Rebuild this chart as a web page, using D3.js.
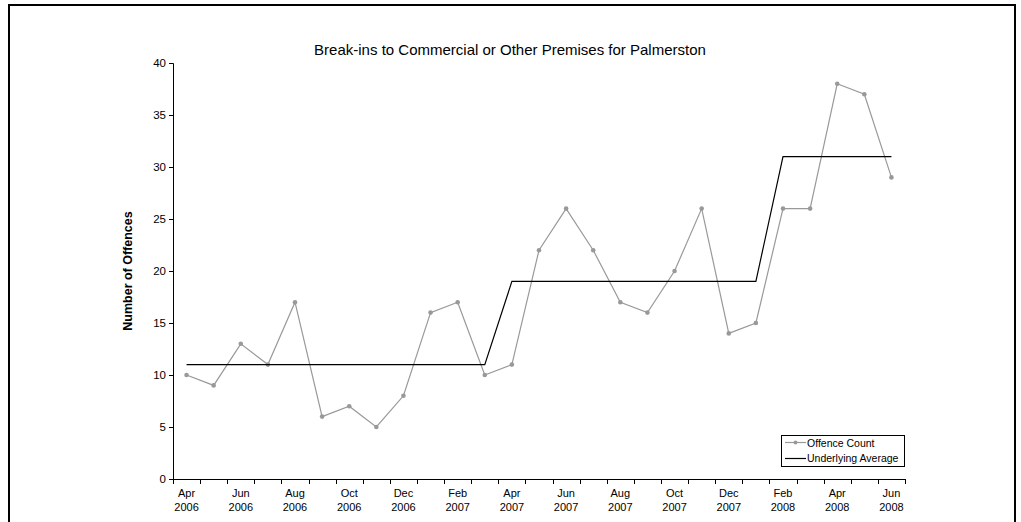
<!DOCTYPE html>
<html><head><meta charset="utf-8">
<script src="https://cdn.jsdelivr.net/npm/d3@7/dist/d3.min.js"></script>
<style>body{margin:0;background:#fff;}svg{display:block;font-family:Arial,"Liberation Sans",sans-serif;}</style>
</head><body>
<svg id="c" width="1021" height="522"></svg>
<script>
const months = ["Apr 2006","May 2006","Jun 2006","Jul 2006","Aug 2006","Sep 2006","Oct 2006","Nov 2006","Dec 2006",
  "Jan 2007","Feb 2007","Mar 2007","Apr 2007","May 2007","Jun 2007","Jul 2007","Aug 2007","Sep 2007","Oct 2007","Nov 2007","Dec 2007",
  "Jan 2008","Feb 2008","Mar 2008","Apr 2008","May 2008","Jun 2008"];
const offenceCount = [10,9,13,11,17,6,7,5,8,16,17,10,11,22,26,22,17,16,20,26,14,15,26,26,38,37,29];
const underlyingAverage = [11,11,11,11,11,11,11,11,11,11,11,11,19,19,19,19,19,19,19,19,19,19,31,31,31,31,31];
const yTicks = [0,5,10,15,20,25,30,35,40];
const title = "Break-ins to Commercial or Other Premises for Palmerston";
const yLabel = "Number of Offences";

const svg = d3.select("#c");
svg.append("rect").attr("x",9).attr("y",5).attr("width",1006).attr("height",530)
  .attr("fill","none").attr("stroke","#000").attr("stroke-width",2);

const x = d3.scaleBand().domain(months).range([173,905]);
const y = d3.scaleLinear().domain([0,40]).range([479,63]);

svg.append("text").attr("x",510).attr("y",55).attr("text-anchor","middle")
  .attr("font-size",15).text(title);
svg.append("text").attr("transform","translate(132,271) rotate(-90)").attr("text-anchor","middle")
  .attr("font-size",12.5).attr("font-weight","bold").text(yLabel);

// Y axis
const yAxis = svg.append("g").attr("transform","translate(173,0)")
  .call(d3.axisLeft(y).tickValues(yTicks).tickSize(4).tickPadding(3));
yAxis.select(".domain").attr("stroke","#000");
yAxis.selectAll("text").attr("font-size",11.5).attr("fill","#000").attr("font-family","Arial,'Liberation Sans',sans-serif");

// X axis: ticks at band boundaries
const xg = svg.append("g");
xg.append("line").attr("x1",173).attr("x2",905).attr("y1",479.5).attr("y2",479.5).attr("stroke","#000");
const bounds = months.map(m => x(m)).concat([x.range()[1]]);
xg.selectAll("line.t").data(bounds).join("line").attr("class","t")
  .attr("x1",d=>Math.round(d)+0.5).attr("x2",d=>Math.round(d)+0.5).attr("y1",479).attr("y2",484).attr("stroke","#000");
const labelled = months.filter((m,i)=>i%2===0);
const lab = xg.selectAll("text.l").data(labelled).join("text").attr("class","l")
  .attr("text-anchor","middle").attr("font-size",11)
  .attr("x",d=>x(d)+x.bandwidth()/2);
lab.append("tspan").attr("x",d=>x(d)+x.bandwidth()/2).attr("y",497).text(d=>d.split(" ")[0]);
lab.append("tspan").attr("x",d=>x(d)+x.bandwidth()/2).attr("y",511).text(d=>d.split(" ")[1]);

const cx = (d,i)=>x(months[i])+x.bandwidth()/2;
const line = d3.line().x((d,i)=>cx(d,i)).y(d=>y(d));

svg.append("path").datum(offenceCount).attr("d",line).attr("fill","none")
  .attr("stroke","#999").attr("stroke-width",1.2);
svg.selectAll("circle.p").data(offenceCount).join("circle").attr("class","p")
  .attr("cx",(d,i)=>cx(d,i)).attr("cy",d=>y(d)).attr("r",2.3).attr("fill","#999");

svg.append("path").datum(underlyingAverage).attr("d",line).attr("fill","none")
  .attr("stroke","#000").attr("stroke-width",1.2);

// Legend
const lg = svg.append("g");
lg.append("rect").attr("x",781.5).attr("y",435.5).attr("width",123).attr("height",31)
  .attr("fill","#fff").attr("stroke","#000");
lg.append("line").attr("x1",785).attr("x2",806).attr("y1",442.5).attr("y2",442.5).attr("stroke","#999").attr("stroke-width",1.2);
lg.append("circle").attr("cx",795.5).attr("cy",442.5).attr("r",2).attr("fill","#999");
lg.append("text").attr("x",807).attr("y",446.5).attr("font-size",10.5).text("Offence Count");
lg.append("line").attr("x1",785).attr("x2",806).attr("y1",458.5).attr("y2",458.5).attr("stroke","#000").attr("stroke-width",1.2);
lg.append("text").attr("x",807).attr("y",462).attr("font-size",10.5).text("Underlying Average");
</script>
</body></html>
